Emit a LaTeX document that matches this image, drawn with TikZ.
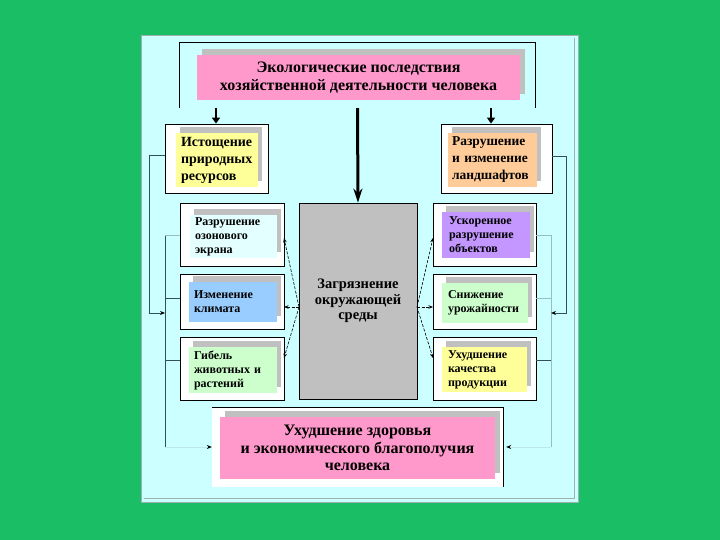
\documentclass[tikz,border=0pt]{standalone}
\usepackage{fontspec}
\setmainfont{Liberation Serif}
\usetikzlibrary{arrows.meta,shadows}
\definecolor{bggreen}{RGB}{26,190,100}
\definecolor{panel}{RGB}{204,255,255}
\definecolor{panelline}{RGB}{160,175,175}
\definecolor{pinkc}{RGB}{255,153,204}
\definecolor{yellowc}{RGB}{255,255,153}
\definecolor{orangec}{RGB}{255,204,153}
\definecolor{bluec}{RGB}{153,204,255}
\definecolor{greenc}{RGB}{204,255,204}
\definecolor{purplec}{RGB}{196,150,255}
\definecolor{palec}{RGB}{228,255,255}
\definecolor{shadowc}{RGB}{192,192,192}
\definecolor{centerc}{RGB}{192,192,192}
\definecolor{busdark}{RGB}{50,80,90}
\definecolor{buslight}{RGB}{150,190,195}
\definecolor{busfaint}{RGB}{190,230,235}
\newcommand{\ftitle}{\fontsize{16}{18}\selectfont\bfseries}
\newcommand{\fbot}{\fontsize{16}{17.5}\selectfont\bfseries}
\newcommand{\fmid}{\fontsize{14}{17}\selectfont\bfseries}
\newcommand{\fmidr}{\fontsize{13.5}{17}\selectfont\bfseries}
\newcommand{\fcen}{\fontsize{14.5}{15.5}\selectfont\bfseries}
\newcommand{\fsmall}{\fontsize{12}{14}\selectfont\bfseries}
\begin{document}
\begin{tikzpicture}[x=1pt,y=-1pt,
  framebox/.style={draw=black, fill=white, line width=0.8pt, inner sep=0pt},
  cbox/.style={inner ysep=0pt, align=left, general shadow={fill=shadowc, shadow xshift=4pt, shadow yshift=6pt}},
  ccbox/.style={inner sep=0pt, align=center, general shadow={fill=shadowc, shadow xshift=5pt, shadow yshift=6pt}},
  bigarrow/.style={line width=3pt, -{Stealth[length=14pt,width=9pt]}},
  smallarrow/.style={line width=2.6pt, -{Triangle[length=6pt,width=8pt]}},
  thinarrow/.style={line width=0.6pt, dash pattern=on 3pt off 1.5pt, -{Stealth[length=4.5pt,width=3.5pt]}},
  busd/.style={draw=busdark, line width=0.8pt},
  busl/.style={draw=buslight, line width=0.7pt},
  fb/.style={draw=busdark, line width=0.8pt, -{Stealth[length=5pt,width=4pt,color=black]}}
]
\useasboundingbox (0,0) rectangle (720,540);
\fill[bggreen] (0,0) rectangle (720,540);
\draw[panelline, fill=panel, line width=0.8pt] (141,35) rectangle (578,502);
\draw[panelline, line width=0.6pt] (574.5,38) -- (574.5,498.5) -- (144,498.5);

% top frame and title
\node[minimum width=355pt, minimum height=65pt, inner sep=0pt] (topf) at (357.5,75.5) {};
\draw[line width=0.8pt] (topf.south west) |- (topf.north east) -- (topf.south east);
\node[ccbox, fill=pinkc, minimum width=323pt, minimum height=45pt, font=\ftitle] (title) at (358.5,77.5)
  {Экологические последствия\\хозяйственной деятельности человека};

% top side boxes
\node[framebox, minimum width=103pt, minimum height=69pt] (tlf) at (216.5,158.5) {};
\node[cbox, fill=yellowc, inner xsep=5pt, text width=72pt, minimum height=54pt, font=\fmid] (tlb) at (217,160)
  {Истощение\\природных\\ресурсов};
\node[framebox, minimum width=111pt, minimum height=69pt] (trf) at (496.5,158.5) {};
\node[cbox, fill=orangec, inner xsep=4pt, text width=81pt, minimum height=54pt, font=\fmidr] (trb) at (492.5,160)
  {Разрушение\\и изменение\\ландшафтов};

% center box
\node[draw=black, fill=centerc, line width=0.8pt, minimum width=118pt, minimum height=196pt, inner sep=0pt,
  align=center, font=\fcen] (center) at (358,301) {Загрязнение\\окружающей\\среды};

% left small boxes
\node[framebox, minimum width=104pt, minimum height=63pt] (lf1) at (232,234.5) {};
\node[cbox, fill=palec, inner xsep=5pt, text width=77pt, minimum height=43pt, font=\fsmall] (lb1) at (233.5,236.5)
  {Разрушение\\озонового\\экрана};
\node[framebox, minimum width=104pt, minimum height=55pt] (lf2) at (232,301.5) {};
\node[cbox, fill=bluec, inner xsep=5pt, text width=78pt, minimum height=40pt, font=\fsmall] (lb2) at (233,302)
  {Изменение\\климата};
\node[framebox, minimum width=104pt, minimum height=63pt] (lf3) at (232,368.5) {};
\node[cbox, fill=greenc, inner xsep=5pt, text width=78pt, minimum height=46pt, font=\fsmall] (lb3) at (233,370)
  {Гибель\\животных и\\растений};

% right small boxes
\node[framebox, minimum width=103pt, minimum height=63pt] (rf1) at (484.5,234.5) {};
\node[cbox, fill=purplec, inner xsep=7pt, text width=74pt, minimum height=46pt, font=\fsmall] (rb1) at (486,235)
  {Ускоренное\\разрушение\\объектов};
\node[framebox, minimum width=103pt, minimum height=55pt] (rf2) at (484.5,301.5) {};
\node[cbox, fill=greenc, inner xsep=6pt, text width=74pt, minimum height=40pt, font=\fsmall] (rb2) at (485,303)
  {Снижение\\урожайности};
\node[framebox, minimum width=103pt, minimum height=63pt] (rf3) at (484.5,368.5) {};
\node[cbox, fill=yellowc, inner xsep=6pt, text width=73pt, minimum height=45pt, font=\fsmall] (rb3) at (484.5,369.5)
  {Ухудшение\\качества\\продукции};

% bottom box
\node[fill=white, minimum width=291pt, minimum height=79pt, inner sep=0pt] (botf) at (357.5,447.5) {};
\draw[line width=0.8pt] (botf.north west) -- (botf.north east) -- (botf.south east);
\node[ccbox, fill=pinkc, minimum width=275pt, minimum height=62pt, font=\fbot] (bot) at (357.5,448)
  {Ухудшение здоровья\\и экономического благополучия\\человека};

% thick arrows from the top
\coordinate (la) at (216,108);
\coordinate (ra) at (491,108);
\draw[smallarrow] (la) -- (la |- tlf.north);
\draw[smallarrow] (ra) -- (ra |- trf.north);
\draw[bigarrow] (topf.south) -- (center.north);

% dashed arrows from the center
\coordinate (cl) at (299,307);
\coordinate (cr) at (417,307);
\coordinate (l1) at (284,238);
\coordinate (l2) at (284,307);
\coordinate (l3) at (284,358);
\coordinate (r1) at (433,238);
\coordinate (r2) at (433,307);
\coordinate (r3) at (433,358);
\draw[thinarrow] (cl) -- (l1);
\draw[thinarrow] (cl) -- (l2);
\draw[thinarrow] (cl) -- (l3);
\draw[thinarrow] (cr) -- (r1);
\draw[thinarrow] (cr) -- (r2);
\draw[thinarrow] (cr) -- (r3);

% left bus
\coordinate (lbt) at (165,235);
\coordinate (lbb) at (165,447);
\draw[busd] (lbt) -- (lbb);
\draw[busl] (lbt) -- (lf1.west |- lbt);
\draw[busd] (165,298) -- (lf2.west |- 0,298);
\draw[busd] (165,360) -- (lf3.west |- 0,360);
\draw[draw=busfaint, line width=0.6pt, -{Stealth[length=5pt,width=4pt,color=black]}] (lbb) -- (botf.west |- lbb);
\draw[fb] ([yshift=3.5pt]tlf.west) -- (149,155) -- (149,313) -- (165,313);

% right bus
\coordinate (rbt) at (551,235);
\coordinate (rbb) at (551,447);
\draw[busl] (rbt) -- (rbb);
\draw[busl] (rbt) -- (rf1.east |- rbt);
\draw[busl] (551,298) -- (rf2.east |- 0,298);
\draw[busd] (551,360) -- (rf3.east |- 0,360);
\draw[draw=busfaint, line width=0.6pt, -{Stealth[length=5pt,width=4pt,color=black]}] (rbb) -- ([xshift=3pt]botf.east |- rbb);
\draw[fb] ([yshift=2.5pt]trf.east) -- (566,156) -- (566,313) -- (551,313);
\end{tikzpicture}
\end{document}
